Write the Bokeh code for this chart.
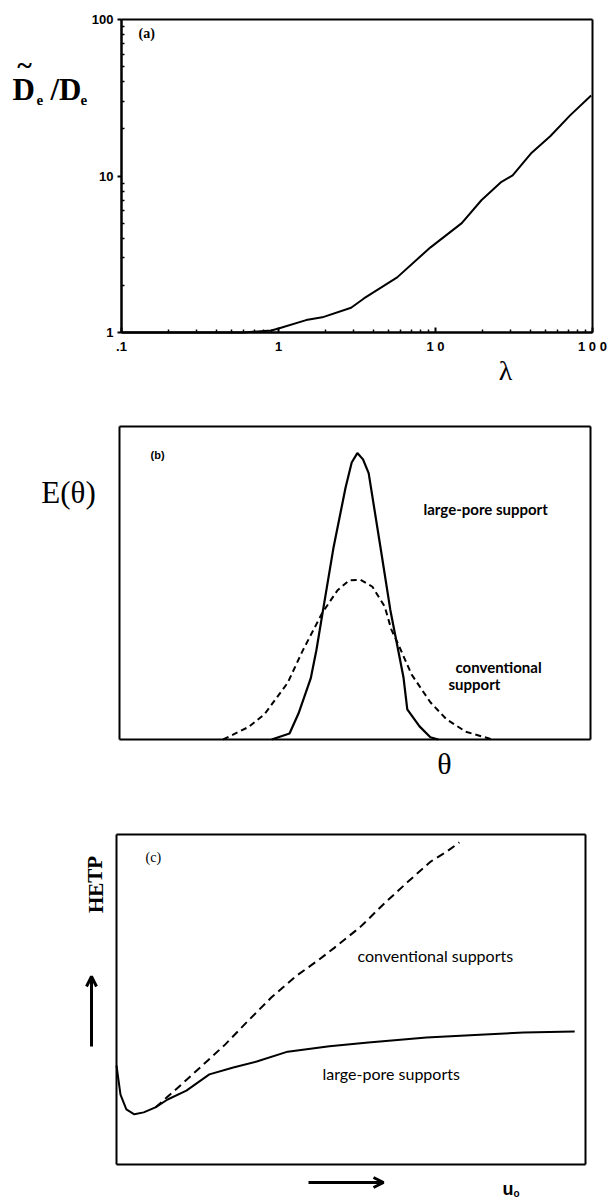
from bokeh.plotting import figure
from bokeh.layouts import column
from bokeh.models import (Label, FixedTicker, Arrow, OpenHead, Range1d,
                          LogAxis, LinearAxis)
from bokeh.embed import file_html
from bokeh.resources import INLINE

# ---------------- data ----------------
# (a) dispersion ratio vs lambda
lam = [0.1, 0.3, 0.6, 0.9, 1.0, 1.5, 1.9, 2.9, 3.5, 5.7, 8.4, 9.3, 14.7, 19.6, 26, 31, 41, 54, 72, 98]
ratio = [1.0, 1.0, 1.0, 1.03, 1.06, 1.2, 1.25, 1.44, 1.65, 2.25, 3.2, 3.5, 5.0, 7.0, 9.1, 10.1, 14.1, 18.0, 24.4, 32.7]
a_ticks = [0.1, 1, 10, 100]
a_xlabels = [".1", "1", "1 0", "1 0 0"]
a_ylabels = ["", "1", "10", "100"]

# (b) residence time distributions
theta_lp = [3.23, 3.61, 3.80, 4.06, 4.18, 4.31, 4.54, 4.80, 4.93, 5.05, 5.17, 5.29, 5.54, 5.75, 6.03, 6.11, 6.37, 6.60, 6.77]
e_lp = [0.0, 0.019, 0.083, 0.195, 0.285, 0.403, 0.61, 0.805, 0.885, 0.915, 0.895, 0.851, 0.615, 0.414, 0.198, 0.096, 0.042, 0.007, 0.0]
theta_conv = [2.2, 2.74, 3.08, 3.57, 3.89, 4.31, 4.63, 4.88, 5.12, 5.37, 5.63, 5.77, 5.94, 6.20, 6.60, 6.94, 7.35, 7.92]
e_conv = [0.0, 0.04, 0.081, 0.181, 0.284, 0.406, 0.477, 0.509, 0.51, 0.488, 0.425, 0.352, 0.297, 0.208, 0.119, 0.065, 0.025, 0.0]

# (c) HETP vs velocity
u_lp = [0.0, 0.085, 0.21, 0.38, 0.58, 0.83, 1.09, 1.49, 1.98, 2.49, 2.99, 3.65, 4.54, 5.37, 6.61, 7.85, 8.68, 9.77]
h_lp = [3.0, 2.12, 1.67, 1.52, 1.58, 1.73, 1.97, 2.24, 2.73, 2.94, 3.12, 3.42, 3.58, 3.70, 3.85, 3.94, 4.0, 4.03]
u_conv = [0.83, 1.24, 1.83, 2.32, 2.81, 3.30, 3.82, 4.31, 4.63, 5.20, 5.71, 6.20, 6.70, 7.04, 7.31]
h_conv = [1.73, 2.24, 3.0, 3.64, 4.36, 5.06, 5.7, 6.2, 6.55, 7.2, 7.91, 8.55, 9.18, 9.48, 9.76]

W = 608
HA, HB, HC = 395, 395, 411      # heights of the three panels
YB0, YC0 = HA, HA + HB           # page offsets of panels b and c


def lab(p, x, y, text, size, font="Liberation Serif", style="normal",
        align="center", baseline="middle", angle=0.0):
    p.add_layout(Label(x=x, y=y, text=text, text_font=font,
                       text_font_size=f"{size}px", text_font_style=style,
                       text_align=align, text_baseline=baseline, angle=angle,
                       text_color="black"))


def full_fig(h, xr, yr, **kw):
    p = figure(width=W, height=h, toolbar_location=None, output_backend="svg",
               min_border=0, min_border_left=0, min_border_right=0,
               min_border_top=0, min_border_bottom=0, title=None,
               x_range=xr, y_range=yr, x_axis_location=None, y_axis_location=None, **kw)
    p.grid.visible = False
    p.outline_line_color = None
    p.background_fill_color = "white"
    p.border_fill_color = "white"
    return p


def plain_axis(cls, loc, bounds):
    ax = cls(fixed_location=loc, bounds=bounds, ticker=FixedTicker(ticks=[]),
             axis_line_width=2, axis_line_color="black",
             major_tick_in=0, major_tick_out=0, minor_tick_in=0, minor_tick_out=0,
             major_label_text_font_size="0px")
    return ax


def box(p, cls, x0, x1, y0, y1):
    p.add_layout(plain_axis(cls, y0, (x0, x1)), "below")
    p.add_layout(plain_axis(cls, y1, (x0, x1)), "above")
    p.add_layout(plain_axis(cls, x0, (y0, y1)), "left")
    p.add_layout(plain_axis(cls, x1, (y0, y1)), "right")


# ---------------- panel (a) ----------------
def ax_(px):
    return 10 ** ((px - 121) / 157.0 - 1)


def ay_(py):
    return 10 ** ((332 - py) / 156.5)


pa = full_fig(HA, Range1d(ax_(0), ax_(W)), Range1d(ay_(HA), ay_(0)),
              x_axis_type="log", y_axis_type="log")
minor_x = [m * 10.0 ** k for k in (-1, 0, 1) for m in range(2, 10)]
minor_y = [m * 10.0 ** k for k in (0, 1) for m in range(2, 10)]
box(pa, LogAxis, 0.1, 100, 1, 100)
xa = LogAxis(fixed_location=1, bounds=(0.1, 100))
ya = LogAxis(fixed_location=0.1, bounds=(1, 100))
xa.ticker = FixedTicker(ticks=a_ticks, minor_ticks=minor_x)
ya.ticker = FixedTicker(ticks=a_ticks[1:], minor_ticks=minor_y)
for ax in (xa, ya):
    ax.axis_line_width = 2
    ax.axis_line_color = "black"
    ax.major_tick_line_width = 2
    ax.minor_tick_line_width = 1.5
    ax.minor_tick_in = 3
    ax.minor_tick_out = 0
    ax.major_label_text_font = "Liberation Sans"
    ax.major_label_text_font_style = "bold"
    ax.major_label_text_font_size = "13px"
    ax.major_label_text_color = "black"
xa.major_tick_in = 5
xa.major_tick_out = 0
xa.major_label_standoff = 6
xa.major_label_overrides = {t: s for t, s in zip(a_ticks, a_xlabels)}
ya.major_tick_in = 0
ya.major_tick_out = 4
ya.major_label_standoff = 4
ya.major_label_overrides = {t: s for t, s in zip(a_ticks, a_ylabels) if s}
pa.add_layout(xa, "below")
pa.add_layout(ya, "left")

pa.line(lam, ratio, line_color="black", line_width=2)

lab(pa, ax_(138), ay_(33), "(a)", 14, style="bold", align="left")
lab(pa, ax_(505), ay_(370), "λ", 28)
lab(pa, ax_(12), ay_(89), "D", 31, style="bold", align="left")
lab(pa, ax_(36), ay_(99), "e", 15, style="bold", align="left")
lab(pa, ax_(50), ay_(89), "/D", 31, style="bold", align="left")
lab(pa, ax_(80), ay_(99), "e", 15, style="bold", align="left")
lab(pa, ax_(24), ay_(64), "~", 28, style="bold")


# ---------------- panel (b) ----------------
def bx(px):
    return (px - 119) / 47.1


def by(py):
    return (739 - py) / 313.0


pb = full_fig(HB, Range1d(bx(0), bx(W)), Range1d(by(YB0 + HB), by(YB0)))
box(pb, LinearAxis, 0, 10, 0, 1)
pb.line(theta_lp, e_lp, line_color="black", line_width=2.2)
pb.line(theta_conv, e_conv, line_color="black", line_width=2, line_dash="6 4")

lab(pb, bx(150), by(454), "(b)", 11, font="Liberation Sans", style="bold", align="left")
lab(pb, bx(68), by(492), "E(θ)", 31)
lab(pb, bx(444), by(763), "θ", 30)
lab(pb, bx(423), by(508), "large-pore support", 15, font="Lato", style="bold", align="left")
lab(pb, bx(455), by(666), "conventional", 15, font="Lato", style="bold", align="left")
lab(pb, bx(448), by(683), "support", 15, font="Lato", style="bold", align="left")


# ---------------- panel (c) ----------------
def cx(px):
    return (px - 116) / 46.9


def cy(py):
    return (1164 - py) / 33.0


pc = full_fig(HC, Range1d(cx(0), cx(W)), Range1d(cy(YC0 + HC), cy(YC0)))
box(pc, LinearAxis, 0, 10, 0, 10)
pc.line(u_lp, h_lp, line_color="black", line_width=2)
pc.line(u_conv, h_conv, line_color="black", line_width=2, line_dash="8 5")

lab(pc, cx(145), cy(857), "(c)", 14, align="left")
lab(pc, cx(95), cy(884), "HETP", 21, style="bold", angle=1.5708)
lab(pc, cx(357), cy(955), "conventional supports", 16, font="Lato", align="left")
lab(pc, cx(322), cy(1073), "large-pore supports", 16, font="Lato", align="left")
lab(pc, cx(502), cy(1188), "u", 18, font="Liberation Sans", style="bold", align="left")
lab(pc, cx(513), cy(1193), "o", 10, font="Liberation Sans", style="bold", align="left")
pc.add_layout(Arrow(end=OpenHead(size=10, line_width=3, line_color="black"),
                    x_start=cx(91), y_start=cy(1046), x_end=cx(91), y_end=cy(976),
                    line_width=3, line_color="black"))
pc.add_layout(Arrow(end=OpenHead(size=10, line_width=3, line_color="black"),
                    x_start=cx(308), y_start=cy(1182), x_end=cx(383), y_end=cy(1182),
                    line_width=3, line_color="black"))

layout = column(pa, pb, pc, spacing=0)
open("out.html", "w").write(file_html(layout, INLINE))
